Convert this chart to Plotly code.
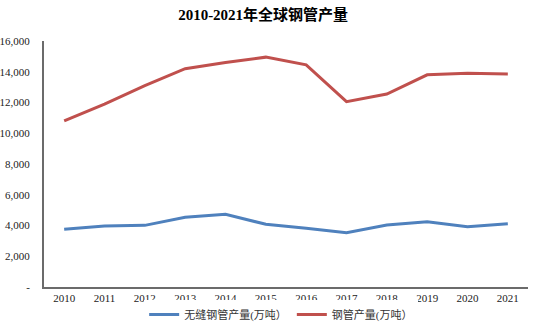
import plotly.graph_objects as go

years = ["2010", "2011", "2012", "2013", "2014", "2015", "2016", "2017", "2018", "2019", "2020", "2021"]
seamless_output = [3750, 3970, 4010, 4530, 4730, 4080, 3820, 3530, 4030, 4250, 3920, 4120]
pipe_output = [10800, 11900, 13100, 14200, 14600, 14950, 14450, 12050, 12550, 13800, 13900, 13850]
y_tick_values = [0, 2000, 4000, 6000, 8000, 10000, 12000, 14000, 16000]
y_tick_labels = ["-", "2,000", "4,000", "6,000", "8,000", "10,000", "12,000", "14,000", "16,000"]

serif = "Liberation Serif, Times New Roman, Noto Sans CJK SC, serif"

fig = go.Figure()
fig.add_trace(go.Scatter(
    x=years, y=seamless_output, mode="lines", name="无缝钢管产量(万吨）",
    line=dict(color="#4F81BD", width=3),
))
fig.add_trace(go.Scatter(
    x=years, y=pipe_output, mode="lines", name="钢管产量(万吨）",
    line=dict(color="#C0504D", width=3),
))

fig.update_layout(
    width=537, height=329,
    margin=dict(l=44, r=9, t=41, b=42, autoexpand=False),
    paper_bgcolor="white", plot_bgcolor="white",
    title=dict(text="<b>2010-2021年全球钢管产量</b>", x=0.49, xanchor="center",
               y=0.955, yanchor="middle",
               font=dict(family=serif, size=15, color="#000000")),
    font=dict(family=serif, size=11, color="#222222"),
    showlegend=True,
    legend=dict(orientation="h", x=0.49, xanchor="center",
                yref="container", y=0.0, yanchor="bottom",
                font=dict(family=serif, size=11, color="#333333"),
                itemwidth=30, tracegroupgap=0),
    xaxis=dict(type="category", showgrid=False, showline=True, linecolor="#6b6b6b",
               linewidth=2, ticks="", tickfont=dict(family=serif, size=11, color="#222222"),
               range=[-0.5, 11.5], zeroline=False),
    yaxis=dict(range=[0, 16000], tickvals=y_tick_values, ticktext=y_tick_labels,
               showgrid=False, showline=True, linecolor="#6b6b6b", linewidth=2,
               ticks="", ticklabelstandoff=10, zeroline=False,
               tickfont=dict(family=serif, size=11, color="#222222")),
)

fig.write_html("out.html")
